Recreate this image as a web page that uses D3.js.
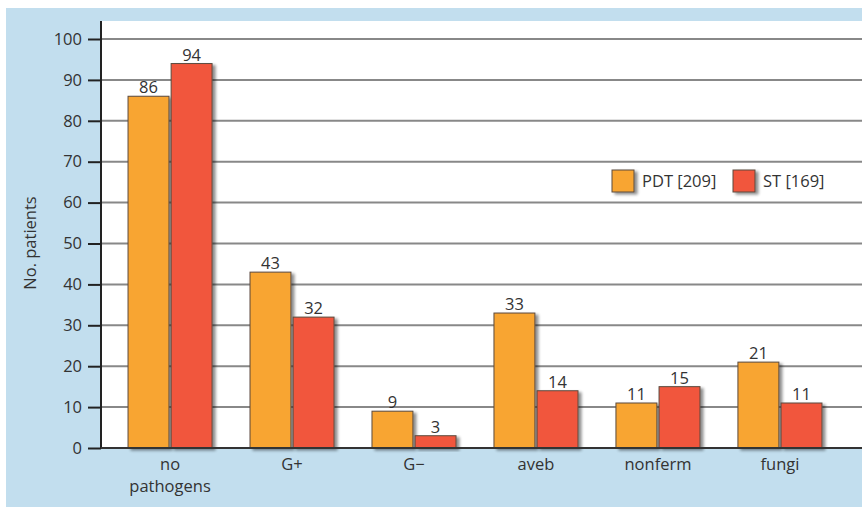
<!DOCTYPE html>
<html lang="en">
  <head>
    <meta charset="utf-8">
    <title>No. patients</title>
    <style>
      body, html { margin:0; padding:0; background:#fff; }
      svg { display:block; font-family:"Open Sans", "Noto Sans", sans-serif; }
      .tick text { fill:#333; }
    </style>
    <script src="https://cdn.jsdelivr.net/npm/d3@7"></script>
  </head>
  <body>
    <div id="chart"></div>
<script>
var categories = ['no\npathogens', 'G+', 'G\u2212', 'aveb', 'nonferm', 'fungi'];
var seriesNames = ['PDT [209]', 'ST [169]'];
var pdtValues = [86, 43, 9, 33, 11, 21];
var stValues = [94, 32, 3, 14, 15, 11];
var yTicks = [0, 10, 20, 30, 40, 50, 60, 70, 80, 90, 100];
var colors = ['#f8a531', '#f1573e'];

var W = 862, H = 507;
var plotLeft = 101, plotTop = 21, plotBottom = 448;
var fontSize = 16.5;

var svg = d3.select('#chart').append('svg').attr('width', W).attr('height', H);

// drop shadow for bars
var defs = svg.append('defs');
var f = defs.append('filter').attr('id', 'shadow').attr('x', '-20%').attr('y', '-20%').attr('width', '150%').attr('height', '150%');
f.append('feGaussianBlur').attr('in', 'SourceAlpha').attr('stdDeviation', 1.5);
f.append('feOffset').attr('dx', 3).attr('dy', 2).attr('result', 'b');
f.append('feComponentTransfer').append('feFuncA').attr('type', 'linear').attr('slope', 0.45);
var m = f.append('feMerge');
m.append('feMergeNode');
m.append('feMergeNode').attr('in', 'SourceGraphic');

// background
svg.append('rect').attr('x', 6).attr('y', 8).attr('width', W - 6).attr('height', H - 8).attr('fill', '#c2deee');
svg.append('rect').attr('x', plotLeft).attr('y', plotTop).attr('width', W - plotLeft).attr('height', plotBottom - plotTop).attr('fill', '#fff');

var y = d3.scaleLinear().domain([0, 100]).range([plotBottom, 39]);
var x0 = d3.scaleBand().domain(categories).range([109, 841]).paddingInner(0.311).paddingOuter(0.156);
var x1 = d3.scaleBand().domain([0, 1]).range([0, x0.bandwidth()]).paddingInner(0.05);

// gridlines
svg.append('g').selectAll('line').data(yTicks.filter(function(d){ return d > 0; }))
  .enter().append('line')
  .attr('x1', plotLeft).attr('x2', W)
  .attr('y1', function(d){ return y(d); }).attr('y2', function(d){ return y(d); })
  .attr('stroke', '#888').attr('stroke-width', 2);

// bars
var data = categories.map(function(c, i){ return { cat: c, vals: [pdtValues[i], stValues[i]] }; });
var groups = svg.append('g').selectAll('g').data(data).enter().append('g')
  .attr('transform', function(d){ return 'translate(' + x0(d.cat) + ',0)'; });

groups.selectAll('rect').data(function(d){ return d.vals; }).enter().append('rect')
  .attr('x', function(d, i){ return x1(i); })
  .attr('y', function(d){ return y(d); })
  .attr('width', x1.bandwidth())
  .attr('height', function(d){ return plotBottom - y(d); })
  .attr('fill', function(d, i){ return colors[i]; })
  .attr('stroke', '#5b4a3e').attr('stroke-width', 1)
  .attr('filter', 'url(#shadow)');

groups.selectAll('text').data(function(d){ return d.vals; }).enter().append('text')
  .attr('x', function(d, i){ return x1(i) + x1.bandwidth() / 2; })
  .attr('y', function(d){ return y(d) - 3; })
  .attr('text-anchor', 'middle').attr('font-size', fontSize).attr('fill', '#333')
  .text(function(d){ return d; });

// y axis
var yAxis = svg.append('g').attr('transform', 'translate(' + plotLeft + ',0)')
  .call(d3.axisLeft(y).tickValues(yTicks).tickSize(13).tickPadding(6));
yAxis.select('.domain').remove();
yAxis.selectAll('.tick line').attr('stroke', '#222').attr('stroke-width', 2);
yAxis.selectAll('.tick text').attr('font-size', fontSize).attr('font-family', '"Open Sans", sans-serif');
svg.append('line').attr('x1', plotLeft).attr('x2', plotLeft).attr('y1', plotTop).attr('y2', plotBottom + 1)
  .attr('stroke', '#222').attr('stroke-width', 2);

// x axis
svg.append('line').attr('x1', plotLeft).attr('x2', W).attr('y1', plotBottom).attr('y2', plotBottom)
  .attr('stroke', '#333').attr('stroke-width', 2);
svg.append('g').selectAll('text').data(categories).enter().append('text')
  .attr('x', function(d){ return x0(d) + x0.bandwidth() / 2; })
  .attr('y', 470)
  .attr('text-anchor', 'middle').attr('font-size', fontSize).attr('fill', '#333')
  .each(function(d){
    var t = d3.select(this);
    d.split('\n').forEach(function(s, i){
      t.append('tspan').attr('x', t.attr('x')).attr('dy', i ? 22 : 0).text(s);
    });
  });

// y label
svg.append('text').attr('transform', 'translate(36,243) rotate(-90)')
  .attr('text-anchor', 'middle').attr('font-size', fontSize).attr('fill', '#333')
  .text('No. patients');

// legend
var legend = svg.append('g');
var legX = [612, 733];
seriesNames.forEach(function(name, i){
  legend.append('rect').attr('x', legX[i]).attr('y', 170).attr('width', 22).attr('height', 22)
    .attr('fill', colors[i]).attr('stroke', '#5b4a3e').attr('stroke-width', 1)
    .attr('filter', 'url(#shadow)');
  legend.append('text').attr('x', legX[i] + 30).attr('y', 187)
    .attr('font-size', fontSize).attr('fill', '#333').text(name);
});
</script>
  </body>
</html>
